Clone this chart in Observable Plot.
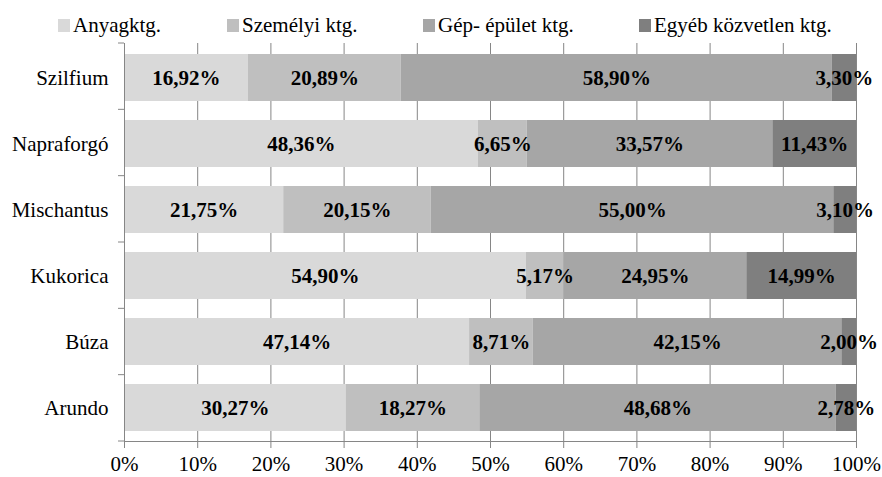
<!DOCTYPE html>
<html>
<head>
<meta charset="utf-8">
<script src="https://cdn.jsdelivr.net/npm/d3@7"></script>
<script src="https://cdn.jsdelivr.net/npm/@observablehq/plot@0.6"></script>
<style>
  html, body { margin: 0; padding: 0; background: #fff; }
  body { width: 882px; height: 477px; overflow: hidden; }
  #legend { position: relative; height: 38px; font-size: 21px; color: #000; }
  .item { position: absolute; top: 12px; display: flex; align-items: center; white-space: nowrap; line-height: 26px; }
  .sw { width: 12px; height: 13px; margin-right: 3px; }
</style>
</head>
<body>
<div id="legend"></div>
<div id="chart"></div>
<script>
const categories = ["Szilfium", "Napraforgó", "Mischantus", "Kukorica", "Búza", "Arundo"];
const series = ["Anyagktg.", "Személyi ktg.", "Gép- épület ktg.", "Egyéb közvetlen ktg."];
const anyag    = [16.92, 48.36, 21.75, 54.90, 47.14, 30.27];
const szemelyi = [20.89,  6.65, 20.15,  5.17,  8.71, 18.27];
const gep      = [58.90, 33.57, 55.00, 24.95, 42.15, 48.68];
const egyeb    = [ 3.30, 11.43,  3.10, 14.99,  2.00,  2.78];
const colors = ["#d9d9d9", "#bfbfbf", "#a6a6a6", "#7f7f7f"];
const xTicks = [0, 0.1, 0.2, 0.3, 0.4, 0.5, 0.6, 0.7, 0.8, 0.9, 1];
const legendLeft = [58, 227, 423, 639];

const valuesBySeries = [anyag, szemelyi, gep, egyeb];
const data = [];
series.forEach((s, si) => categories.forEach((c, ci) => data.push({cat: c, series: s, value: valuesBySeries[si][ci]})));

const fam = "Liberation Serif";
const FONT = `"${fam}", serif`;
document.body.style.fontFamily = FONT;

// legend
const legend = document.getElementById("legend");
series.forEach((s, i) => {
  const it = document.createElement("div");
  it.className = "item";
  it.style.left = legendLeft[i] + "px";
  it.style.fontFamily = FONT;
  it.innerHTML = `<span class="sw" style="background:${colors[i]}"></span><span>${s}</span>`;
  legend.appendChild(it);
});

const fmt = v => v.toFixed(2).replace(".", ",") + "%";
const gray = "#868686";

function bandTicks(index, scales, values, dims) {
  const top = dims.marginTop, bottom = dims.height - dims.marginBottom;
  const n = categories.length, step = (bottom - top) / n;
  const x0 = scales.x(0);
  const g = d3.create("svg:g");
  for (let i = 0; i <= n; i++) {
    const y = top + i * step;
    g.append("line").attr("x1", x0 - 6).attr("x2", x0).attr("y1", y).attr("y2", y)
      .attr("stroke", gray).attr("stroke-width", 1);
  }
  return g.node();
}

const chart = Plot.plot({
  width: 882,
  height: 439,
  marginTop: 5,
  marginBottom: 36,
  marginLeft: 124,
  marginRight: 26,
  style: {fontSize: "21px", color: "#000", background: "#fff"},
  x: {domain: [0, 1], ticks: xTicks, tickFormat: d3.format(".0%"), label: null},
  y: {domain: categories, paddingInner: 0.29, paddingOuter: 0.145, label: null},
  color: {domain: series, range: colors},
  marks: [
    Plot.gridX(xTicks, {stroke: gray, strokeOpacity: 1}),
    Plot.barX(data, Plot.stackX({x: "value", y: "cat", fill: "series", offset: "normalize"})),
    Plot.frame({anchor: "left", stroke: gray}),
    Plot.frame({anchor: "bottom", stroke: gray}),
    bandTicks,
    Plot.axisX(xTicks, {tickSize: 7, tickPadding: 8, stroke: gray, strokeOpacity: 1, fontSize: 21, fill: "#000", tickFormat: d3.format(".0%"), label: null}),
    Plot.axisY({tickSize: 0, tickPadding: 16, fontSize: 21, fill: "#000", label: null}),
    Plot.text(data, Plot.stackX({x: "value", y: "cat", z: "series", text: d => fmt(d.value), offset: "normalize", fontWeight: "bold", fontSize: 21, fill: "#000"}))
  ]
});
chart.style.fontFamily = FONT;
d3.select(chart).selectAll("g, text").attr("font-family", null).style("font-family", FONT);
document.getElementById("chart").appendChild(chart);
</script>
</body>
</html>
